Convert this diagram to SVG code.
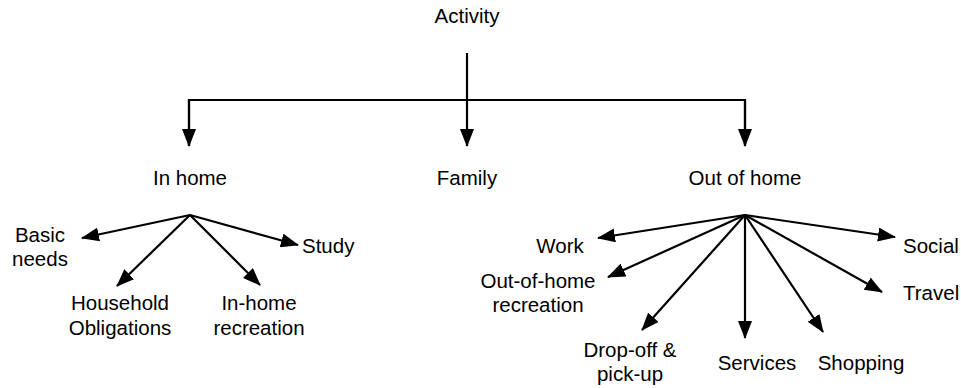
<svg xmlns="http://www.w3.org/2000/svg" width="961" height="388" viewBox="0 0 961 388">
<style>
text{font-family:"Liberation Sans",Arial,sans-serif;font-size:20.5px;fill:#000;text-anchor:middle}
.s{text-anchor:start}
.c{stroke:#000;stroke-width:2.2;fill:none}
.a{marker-end:url(#ah)}
</style>
<defs>
<marker id="ah" markerUnits="userSpaceOnUse" markerWidth="18" markerHeight="14" refX="17" refY="7" orient="auto" viewBox="0 0 18 14">
<path d="M0,0 L18,7 L0,14 z" fill="#000"/>
</marker>
</defs>
<rect width="961" height="388" fill="#fff"/>
<g id="connectors">
<path class="c" d="M467,53 V100"/>
<path class="c" d="M189,146 V100 H745 V146"/>
<path class="c a" d="M189,100 V146"/>
<path class="c a" d="M467,100 V146"/>
<path class="c a" d="M745,100 V146"/>
<line class="c a" x1="190" y1="215" x2="82" y2="238"/>
<line class="c a" x1="190" y1="215" x2="117" y2="286"/>
<line class="c a" x1="190" y1="215" x2="260" y2="285"/>
<line class="c a" x1="190" y1="215" x2="298" y2="245"/>
<line class="c a" x1="745" y1="215" x2="598" y2="238"/>
<line class="c a" x1="745" y1="215" x2="608" y2="277"/>
<line class="c a" x1="745" y1="215" x2="642" y2="330"/>
<line class="c a" x1="745" y1="215" x2="745" y2="338"/>
<line class="c a" x1="745" y1="215" x2="823" y2="332"/>
<line class="c a" x1="745" y1="215" x2="882" y2="292"/>
<line class="c a" x1="745" y1="215" x2="895" y2="237"/>
</g>
<g id="activity"><text x="467" y="23">Activity</text></g>
<g id="in-home"><text x="190" y="185">In home</text></g>
<g id="family"><text x="467" y="185">Family</text></g>
<g id="out-of-home"><text x="745" y="185">Out of home</text></g>
<g id="basic-needs"><text x="40" y="242">Basic</text><text x="40" y="266">needs</text></g>
<g id="household"><text x="120" y="310">Household</text><text x="120" y="335">Obligations</text></g>
<g id="in-home-recreation"><text x="259" y="310">In-home</text><text x="259" y="335">recreation</text></g>
<g id="study"><text class="s" x="302" y="253">Study</text></g>
<g id="work"><text x="560" y="253">Work</text></g>
<g id="out-of-home-recreation"><text x="538" y="288">Out-of-home</text><text x="538" y="312">recreation</text></g>
<g id="drop-off"><text x="630" y="357">Drop-off &amp;</text><text x="630" y="381">pick-up</text></g>
<g id="services"><text x="757" y="370">Services</text></g>
<g id="shopping"><text x="861" y="370">Shopping</text></g>
<g id="social"><text class="s" x="903" y="253">Social</text></g>
<g id="travel"><text class="s" x="903" y="300">Travel</text></g>
</svg>
